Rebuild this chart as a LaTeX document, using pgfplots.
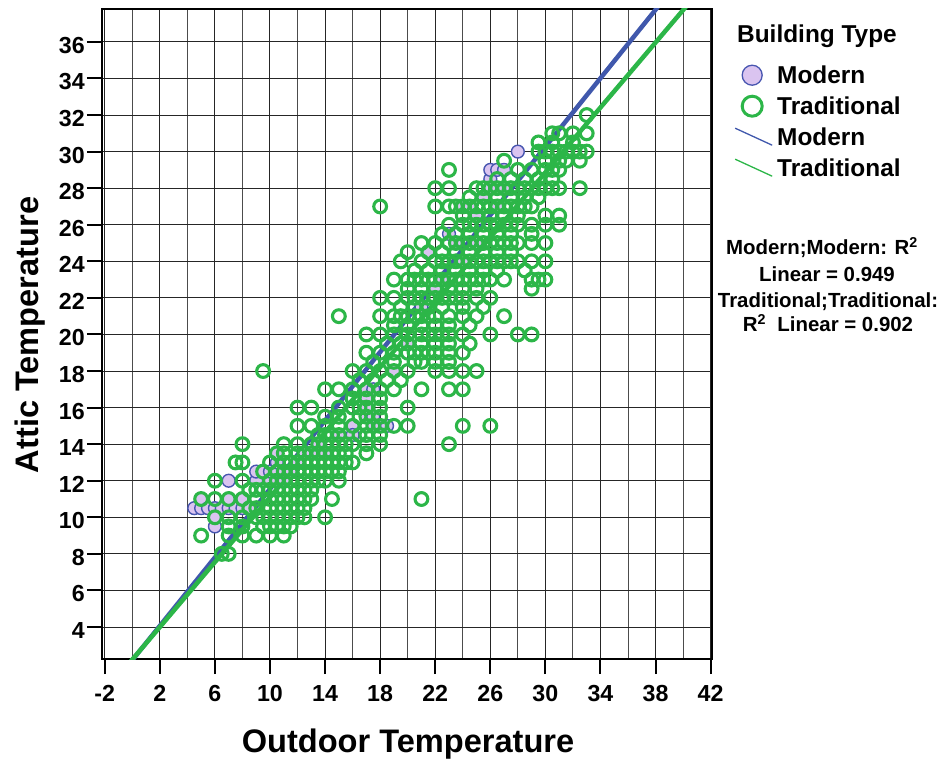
\documentclass[border=0pt]{standalone}
\usepackage{pgfplots}
\pgfplotsset{compat=1.18}
\usepackage{fontspec}
\setmainfont{Liberation Sans}

\definecolor{tradgreen}{RGB}{44,182,72}
\definecolor{modernedge}{RGB}{72,86,176}
\definecolor{modernfill}{RGB}{218,196,240}
\definecolor{modernline}{RGB}{64,88,172}

\begin{document}
\begin{tikzpicture}
% overall canvas
\path[use as bounding box] (-102bp,-103bp) rectangle (850bp,659bp);
\begin{axis}[
  at={(0bp,0bp)}, anchor=south west,
  scale only axis, width=610bp, height=650bp,
  xmin=-2.2, xmax=42.1, ymin=2.25, ymax=37.8,
  xtick={-2,2,...,42}, minor xtick={0,4,...,40},
  ytick={4,6,...,36},
  xtick pos=lower, ytick pos=left,
  tick align=outside, major tick length=15bp, minor tick length=0pt,
  xmajorgrids, xminorgrids, ymajorgrids,
  major grid style={black!85, line width=1bp},
  minor grid style={black!70, line width=1bp},
  tick style={black, line width=2bp},
  axis line style={black, line width=1.5bp},
  /pgf/number format/assume math mode=true,
  tick label style={font=\fontsize{23.3}{28}\selectfont\bfseries},
  yticklabel style={inner sep=0pt, xshift=-2bp, yshift=-3.5bp},
  xticklabel style={inner sep=0pt, yshift=-11bp},
  xlabel={Outdoor Temperature}, ylabel={Attic Temperature},
  label style={font=\fontsize{32.7}{38}\selectfont\bfseries},
  xlabel style={at={(axis description cs:0.5016,0)}, anchor=base, yshift=-93bp},
  ylabel style={at={(axis description cs:-0.1049,0.4985)}, anchor=base},
  legend cell align=left,
  legend style={at={(axis description cs:1.0344,0.9169)}, anchor=north west,
    draw=none, fill=none, inner sep=0pt, row sep=7bp, column sep=2bp,
    font=\fontsize{24.5}{29}\selectfont\bfseries},
]
% Modern buildings
\addplot[only marks, mark=*, mark size=6.4bp, draw=modernedge, fill=modernfill,
  mark options={draw=modernedge, fill=modernfill, line width=1.4bp}, forget plot]
  table[row sep=\\] {x y\\
4.5 10.5\\ 5 10.5\\ 5 11\\ 5.5 10.5\\ 6 10.5\\ 6.5 10.5\\ 7 10.5\\ 7.5 10.5\\ 8 10.5\\ 8.5 10.5\\
6 9.5\\ 6 10\\ 7 11\\ 7 12\\ 8 11\\ 9 12\\ 9 12.5\\ 9.5 12.5\\ 10 12\\ 10 12.5\\
10.5 12.5\\ 10.5 13\\ 10.5 13.5\\ 11 12\\ 11.5 12.5\\ 12 13\\ 12.5 13.5\\ 13 13.5\\ 13.5 14\\ 14 13.5\\
15 14.5\\ 16 15\\ 16 14.5\\ 17 17\\ 17.5 17\\ 17 16.5\\ 17 16\\ 17 15.5\\ 17.5 15\\ 18 15\\
18.5 15\\ 17.5 15.5\\ 19 18\\ 20 19.5\\ 21 21.5\\ 21.5 24.5\\ 22 22.5\\ 22.5 23\\ 23 25.5\\ 23.5 25\\
24 27\\ 24.5 27\\ 25 26.5\\ 25.5 27.5\\ 26 28\\ 26 28.5\\ 26 29\\ 26.5 29\\ 27 29\\ 28 30\\
25 25\\ 24 24\\ 27 28\\ 26.5 27\\
};
% Traditional buildings
\addplot[only marks, mark=o, mark size=6.4bp, draw=tradgreen,
  mark options={draw=tradgreen, line width=3.1bp}, forget plot]
  table[row sep=\\] {x y\\
6.5 8\\ 7 8\\
5 9\\ 7 9\\ 8 9\\ 9 9\\ 10 9\\ 11 9\\
7 9.5\\ 8 9.5\\ 9.5 9.5\\ 10 9.5\\ 10.5 9.5\\ 11 9.5\\ 11.5 9.5\\
6 10\\ 7 10\\ 8 10\\ 9 10\\ 9.5 10\\ 10 10\\ 10.5 10\\ 11 10\\ 11.5 10\\ 12 10\\ 12.5 10\\ 14 10\\
8.5 10.5\\ 9 10.5\\ 10 10.5\\ 10.5 10.5\\ 11 10.5\\ 11.5 10.5\\ 12 10.5\\ 12.5 10.5\\
5 11\\ 6 11\\ 7 11\\ 8 11\\ 9 11\\ 10 11\\ 10.5 11\\ 11 11\\ 11.5 11\\ 12 11\\ 12.5 11\\ 13 11\\ 14.5 11\\ 21 11\\
8.5 11.5\\ 9 11.5\\ 9.5 11.5\\ 10 11.5\\ 10.5 11.5\\ 11 11.5\\ 11.5 11.5\\ 12 11.5\\ 12.5 11.5\\ 13 11.5\\
6 12\\ 8 12\\ 10 12\\ 10.5 12\\ 11 12\\ 11.5 12\\ 12 12\\ 12.5 12\\ 13 12\\ 13.5 12\\ 14 12\\ 15 12\\
9.5 12.5\\ 10.5 12.5\\ 11 12.5\\ 11.5 12.5\\ 12 12.5\\ 12.5 12.5\\ 13 12.5\\ 13.5 12.5\\ 14 12.5\\ 14.5 12.5\\ 15 12.5\\
7.5 13\\ 8 13\\ 10 13\\ 11 13\\ 11.5 13\\ 12 13\\ 12.5 13\\ 13 13\\ 13.5 13\\ 14 13\\ 14.5 13\\ 15 13\\ 15.5 13\\ 16 13\\
10.5 13.5\\ 11 13.5\\ 12 13.5\\ 12.5 13.5\\ 13 13.5\\ 13.5 13.5\\ 14 13.5\\ 14.5 13.5\\ 15 13.5\\ 15.5 13.5\\ 17 13.5\\
8 14\\ 11 14\\ 12 14\\ 13 14\\ 13.5 14\\ 14 14\\ 14.5 14\\ 15 14\\ 15.5 14\\ 16 14\\ 17 14\\ 18 14\\ 23 14\\
13.5 14.5\\ 14 14.5\\ 14.5 14.5\\ 15 14.5\\ 16.5 14.5\\ 17 14.5\\ 18 14.5\\
12 15\\ 13 15\\ 14 15\\ 15 15\\ 16 15\\ 17 15\\ 17.5 15\\ 18 15\\ 19 15\\ 20 15\\ 24 15\\ 26 15\\
14 15.5\\ 15 15.5\\ 16.5 15.5\\ 17 15.5\\ 18 15.5\\
12 16\\ 13 16\\ 15 16\\ 16 16\\ 16.5 16\\ 17 16\\ 18 16\\ 20 16\\
16 16.5\\ 17 16.5\\ 18 16.5\\
14 17\\ 15 17\\ 16 17\\ 17 17\\ 18 17\\ 19 17\\ 21 17\\ 23 17\\ 24 17\\
16.5 17.5\\ 17.5 17.5\\ 18.5 17.5\\ 19.5 17.5\\
9.5 18\\ 16 18\\ 17 18\\ 18 18\\ 19 18\\ 20 18\\ 22 18\\ 23 18\\ 24 18\\ 25 18\\
17.5 18.5\\ 19 18.5\\ 20.5 18.5\\ 21 18.5\\ 22 18.5\\ 23 18.5\\
17 19\\ 18 19\\ 19 19\\ 20 19\\ 20.5 19\\ 21 19\\ 21.5 19\\ 22 19\\ 23 19\\ 24 19\\
18.5 19.5\\ 19.5 19.5\\ 20 19.5\\ 21 19.5\\ 22 19.5\\ 23 19.5\\ 24.5 19.5\\
17 20\\ 18 20\\ 19 20\\ 20 20\\ 21 20\\ 21.5 20\\ 22 20\\ 22.5 20\\ 23 20\\ 24 20\\ 26 20\\ 28 20\\ 29 20\\
19 20.5\\ 20 20.5\\ 21 20.5\\ 22 20.5\\ 23 20.5\\ 24.5 20.5\\
15 21\\ 18 21\\ 19 21\\ 19.5 21\\ 20 21\\ 20.5 21\\ 21 21\\ 21.5 21\\ 22 21\\ 23 21\\ 24 21\\ 25 21\\ 27 21\\
19.5 21.5\\ 20.5 21.5\\ 21.5 21.5\\ 22.5 21.5\\ 24 21.5\\ 25.5 21.5\\
18 22\\ 19 22\\ 20 22\\ 20.5 22\\ 21 22\\ 21.5 22\\ 22 22\\ 22.5 22\\ 23 22\\ 23.5 22\\ 24 22\\ 25 22\\ 26 22\\
20 22.5\\ 21 22.5\\ 22 22.5\\ 23 22.5\\ 24 22.5\\ 25 22.5\\ 29 22.5\\
19 23\\ 20 23\\ 20.5 23\\ 21 23\\ 21.5 23\\ 22 23\\ 22.5 23\\ 23 23\\ 23.5 23\\ 24 23\\ 24.5 23\\ 25 23\\ 25.5 23\\ 26 23\\ 27 23\\ 29 23\\ 29.5 23\\ 30 23\\
20.5 23.5\\ 21.5 23.5\\ 22.5 23.5\\ 23.5 23.5\\ 24.5 23.5\\ 25.5 23.5\\ 26.5 23.5\\ 28.5 23.5\\
19.5 24\\ 21 24\\ 22 24\\ 22.5 24\\ 23 24\\ 23.5 24\\ 24 24\\ 24.5 24\\ 25 24\\ 25.5 24\\ 26 24\\ 26.5 24\\ 27 24\\ 27.5 24\\ 28 24\\ 29 24\\ 30 24\\
20 24.5\\ 21.5 24.5\\ 22.5 24.5\\ 23.5 24.5\\ 24.5 24.5\\ 25.5 24.5\\ 26.5 24.5\\ 27.5 24.5\\
21 25\\ 22 25\\ 23 25\\ 23.5 25\\ 24 25\\ 24.5 25\\ 25 25\\ 25.5 25\\ 26 25\\ 26.5 25\\ 27 25\\ 27.5 25\\ 28 25\\ 29 25\\ 30 25\\
22.5 25.5\\ 23.5 25.5\\ 24.5 25.5\\ 25.5 25.5\\ 26.5 25.5\\ 27.5 25.5\\ 29 25.5\\
23 26\\ 24 26\\ 24.5 26\\ 25 26\\ 25.5 26\\ 26 26\\ 26.5 26\\ 27 26\\ 27.5 26\\ 28 26\\ 29 26\\ 30 26\\ 31 26\\
24 26.5\\ 25 26.5\\ 26 26.5\\ 27 26.5\\ 28 26.5\\ 30 26.5\\ 31 26.5\\
18 27\\ 22 27\\ 23 27\\ 23.5 27\\ 24 27\\ 24.5 27\\ 25 27\\ 25.5 27\\ 26 27\\ 26.5 27\\ 27 27\\ 27.5 27\\ 28 27\\ 28.5 27\\ 29 27\\
24.5 27.5\\ 25.5 27.5\\ 26.5 27.5\\ 27.5 27.5\\ 28.5 27.5\\ 29.5 27.5\\
22 28\\ 23 28\\ 25 28\\ 25.5 28\\ 26 28\\ 26.5 28\\ 27 28\\ 27.5 28\\ 28 28\\ 28.5 28\\ 29 28\\ 29.5 28\\ 30 28\\ 30.5 28\\ 31 28\\ 32.5 28\\
26.5 28.5\\ 27.5 28.5\\ 28.5 28.5\\ 29.5 28.5\\ 30.5 28.5\\
23 29\\ 28 29\\ 29 29\\ 30 29\\ 30.5 29\\ 31 29\\
27 29.5\\ 30 29.5\\ 31 29.5\\ 31.5 29.5\\ 32.5 29.5\\
29.5 30\\ 30 30\\ 30.5 30\\ 31 30\\ 31.5 30\\ 32 30\\ 32.5 30\\ 33 30\\
29.5 30.5\\ 30.5 30.5\\ 32 30.5\\
30.5 31\\ 31 31\\ 32 31\\ 33 31\\
33 32\\
};
% linear fits
\addplot[modernline, line width=4.5bp, forget plot] coordinates {(-1,1.254) (40,39.63)};
\addplot[tradgreen, line width=4.5bp, forget plot] coordinates {(-1,1.332) (42,39.516)};

\addlegendimage{legend image code/.code={\path[draw=none, fill=none] (0bp,-12bp) rectangle (40bp,12bp);
  \draw[draw=modernedge, fill=modernfill, line width=1.3bp] (19bp,0bp) circle (10bp);}}
\addlegendentry{Modern}
\addlegendimage{legend image code/.code={\path[draw=none, fill=none] (0bp,-12bp) rectangle (40bp,12bp);
  \draw[draw=tradgreen, line width=3bp] (19bp,0bp) circle (10bp);}}
\addlegendentry{Traditional}
\addlegendimage{legend image code/.code={\path[draw=none, fill=none] (0bp,-12bp) rectangle (40bp,12bp);
  \draw[modernline, line width=1.3bp] (2bp,9bp) -- (39bp,-8bp);}}
\addlegendentry{Modern}
\addlegendimage{legend image code/.code={\path[draw=none, fill=none] (0bp,-12bp) rectangle (40bp,12bp);
  \draw[tradgreen, line width=1.3bp] (2bp,9bp) -- (39bp,-8bp);}}
\addlegendentry{Traditional}
\end{axis}

\node[anchor=base west, inner sep=0pt, font=\fontsize{24.5}{29}\selectfont\bfseries]
  at (635bp,616bp) {Building Type};
\begin{scope}[every node/.style={anchor=base, inner sep=0pt, font=\fontsize{20.5}{25}\selectfont\bfseries}]
\node at (720bp,404bp) {Modern;Modern: R\textsuperscript{2}};
\node at (725bp,377bp) {Linear = 0.949};
\node at (726bp,351bp) {Traditional;Traditional:};
\node at (726bp,327bp) {R\textsuperscript{2}\ \ Linear = 0.902};
\end{scope}
\end{tikzpicture}
\end{document}
